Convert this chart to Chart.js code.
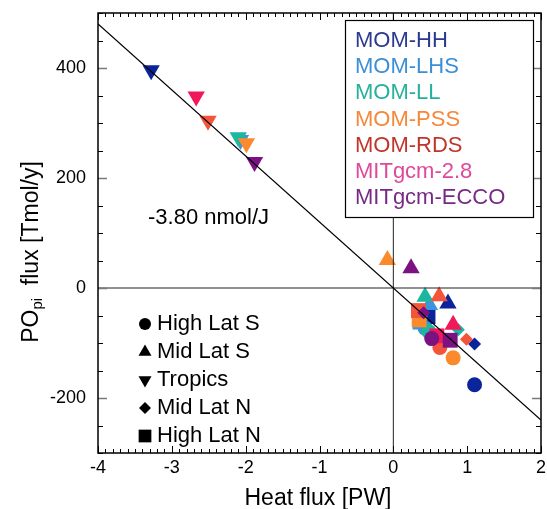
<!DOCTYPE html>
<html>
<head>
<meta charset="utf-8">
<script src="https://cdn.jsdelivr.net/npm/chart.js@4.4.1/dist/chart.umd.min.js"></script>
<style>
  html, body { margin: 0; padding: 0; background: #fff; }
</style>
</head>
<body>
<canvas id="popiChart" width="547" height="509"></canvas>
<script>
// region order used by every series below
const regions = ['High Lat S', 'Mid Lat S', 'Tropics', 'Mid Lat N', 'High Lat N'];
const models  = ['MOM-HH', 'MOM-LHS', 'MOM-LL', 'MOM-PSS', 'MOM-RDS', 'MITgcm-2.8', 'MITgcm-ECCO'];

// heat flux [PW] and POpi flux [Tmol/y] per model, null = hidden in the cluster
const heatHH   = [1.10, 0.74, -3.28, 1.10, 0.47];
const popiHH   = [-176, -28, 396, -102, -52];
const heatLHS  = [0.43, 0.49, -2.07, null, 0.36];
const popiLHS  = [-73, -31, 269, null, -62];
const heatLL   = [0.48, 0.43, -2.10, 0.88, null];
const popiLL   = [-79, -16, 274, -76, null];
const heatPSS  = [0.81, -0.08, -1.99, null, 0.35];
const popiPSS  = [-127, 51, 263, null, -58];
const heatRDS  = [0.63, 0.62, -2.51, 0.99, 0.34];
const popiRDS  = [-108, -15, 304, -93, -41];
const heat28   = [null, 0.81, -2.67, null, 0.59];
const popi28   = [null, -67, 348, null, -87];
const heatECCO = [0.52, 0.24, -1.88, 0.41, 0.77];
const popiECCO = [-92, 36, 229, -45, -95];

// fit line: -3.80 nmol/J
const fitLabel = '-3.80 nmol/J';
const fitX = [-4, 2];
const fitY = [480, -240];

const xTicks = [-4, -3, -2, -1, 0, 1, 2];
const yTicks = [-200, 0, 200, 400];

const markerColors = ['#0b249c', '#3a96dc', '#1db6a0', '#fa8a2c', '#f4553a', '#f0185a', '#7c1282'];
const textColors   = ['#2b3a8e', '#3b8fd6', '#27b09b', '#f5883a', '#c2352a', '#e0489a', '#772a85'];
const styles   = ['circle', 'triangle', 'triangle', 'rectRot', 'rect'];
const rotation = [0, 0, 180, 0, 0];
const radius   = [7.5, 10, 10, 6.5, 10.5];
const keyRadius = [6, 7.5, 7.5, 6, 9];

const heats = [heatHH, heatLHS, heatLL, heatPSS, heatRDS, heat28, heatECCO];
const popis = [popiHH, popiLHS, popiLL, popiPSS, popiRDS, popi28, popiECCO];

const pts = (xs, ys) => xs.map((x, i) => ({ x, y: ys[i] }));

const FONT = "'Liberation Sans', Arial, sans-serif";
Chart.defaults.font.family = FONT;
Chart.defaults.color = '#000';

const modelSets = models.map((m, i) => ({
  type: 'scatter',
  label: m,
  data: pts(heats[i], popis[i]),
  backgroundColor: markerColors[i],
  borderWidth: 0,
  pointStyle: styles,
  pointRotation: rotation,
  pointRadius: radius,
  pointHoverRadius: radius,
  order: models.length - i + 1
}));

const lineSet = (data, width, color) => ({
  type: 'line', data, borderColor: color, borderWidth: width,
  pointRadius: 0, fill: false, tension: 0, order: 0
});

const decor = {
  id: 'decor',
  afterDraw(chart) {
    const { ctx, chartArea: a, scales: { x, y } } = chart;
    ctx.save();

    // inward ticks on all four sides
    ctx.strokeStyle = '#000';
    ctx.lineWidth = 1;
    for (let i = -40; i <= 20; i++) {
      const px = Math.round(x.getPixelForValue(i / 10)) + 0.5;
      const len = i % 10 === 0 ? 7 : 4;
      ctx.beginPath();
      ctx.moveTo(px, a.bottom); ctx.lineTo(px, a.bottom - len);
      ctx.moveTo(px, a.top);    ctx.lineTo(px, a.top + len);
      ctx.stroke();
    }
    for (let v = -300; v <= 500; v += 50) {
      const py = Math.round(y.getPixelForValue(v)) + 0.5;
      const major = v % 200 === 0;
      ctx.strokeStyle = major ? '#7a7a7a' : '#000';
      ctx.lineWidth = major ? 1.6 : 1;
      const len = major ? 9 : 5;
      ctx.beginPath();
      ctx.moveTo(a.left, py);  ctx.lineTo(a.left + len, py);
      ctx.moveTo(a.right, py); ctx.lineTo(a.right - len, py);
      ctx.stroke();
    }

    // frame
    ctx.strokeStyle = '#000';
    ctx.lineWidth = 1.5;
    ctx.strokeRect(a.left, a.top, a.right - a.left, a.bottom - a.top);

    // tick labels
    ctx.fillStyle = '#000';
    ctx.font = '18px ' + FONT;
    ctx.textBaseline = 'middle';
    ctx.textAlign = 'center';
    xTicks.forEach(v => ctx.fillText(String(v), x.getPixelForValue(v), a.bottom + 15));
    ctx.textAlign = 'right';
    yTicks.forEach(v => ctx.fillText(String(v), 86, y.getPixelForValue(v)));

    // x title
    ctx.textAlign = 'center';
    ctx.textBaseline = 'alphabetic';
    ctx.font = '23px ' + FONT;
    ctx.fillText('Heat flux [PW]', 318, 505);

    // model legend box
    ctx.lineWidth = 1.2;
    ctx.fillStyle = '#fff';
    ctx.fillRect(345, 20, 188, 197);
    ctx.strokeRect(345.5, 20.5, 188, 197);
    ctx.font = '22px ' + FONT;
    ctx.textBaseline = 'middle';
    ctx.textAlign = 'left';
    models.forEach((m, i) => {
      ctx.fillStyle = textColors[i];
      ctx.fillText(m, 355, 41 + i * 26.2);
    });

    // region (marker shape) legend
    regions.forEach((r, i) => {
      const cy = 324 + i * 28;
      ctx.fillStyle = '#000';
      Chart.helpers.drawPoint(ctx, {
        pointStyle: styles[i], rotation: rotation[i], borderWidth: 0, radius: keyRadius[i]
      }, 145, cy);
      ctx.fillText(r, 157, cy);
    });

    // fit annotation
    ctx.fillStyle = '#000';
    ctx.fillText(fitLabel, 148, 218);

    // y title with subscript
    ctx.translate(38, 252);
    ctx.rotate(-Math.PI / 2);
    ctx.textBaseline = 'alphabetic';
    const big = '23px ' + FONT, small = '15px ' + FONT;
    ctx.font = big;  const w1 = ctx.measureText('PO').width;
    const w3 = ctx.measureText('  flux [Tmol/y]').width;
    ctx.font = small; const w2 = ctx.measureText('pi').width;
    let sx = -(w1 + w2 + w3) / 2;
    ctx.font = big;   ctx.fillText('PO', sx, 0); sx += w1;
    ctx.font = small; ctx.fillText('pi', sx, 4); sx += w2;
    ctx.font = big;   ctx.fillText('  flux [Tmol/y]', sx, 0);

    ctx.restore();
  }
};

new Chart(document.getElementById('popiChart'), {
  data: {
    datasets: [
      ...modelSets,
      lineSet(pts(fitX, fitY), 1.3, '#000'),
      lineSet(pts([-4, 2], [0, 0]), 1, '#222'),
      lineSet(pts([0, 0], [-300, 500]), 1, '#222')
    ]
  },
  options: {
    responsive: false,
    animation: false,
    layout: { autoPadding: false, padding: { top: 13, right: 6, left: 0, bottom: 0 } },
    plugins: { legend: { display: false }, tooltip: { enabled: false } },
    scales: {
      x: {
        type: 'linear', min: -4, max: 2,
        afterFit: s => { s.height = 56; },
        grid: { display: false, drawTicks: false },
        border: { display: false },
        ticks: { display: false }
      },
      y: {
        type: 'linear', min: -300, max: 500,
        afterFit: s => { s.width = 98; },
        grid: { display: false, drawTicks: false },
        border: { display: false },
        ticks: { display: false }
      }
    }
  },
  plugins: [decor]
});
</script>
</body>
</html>
